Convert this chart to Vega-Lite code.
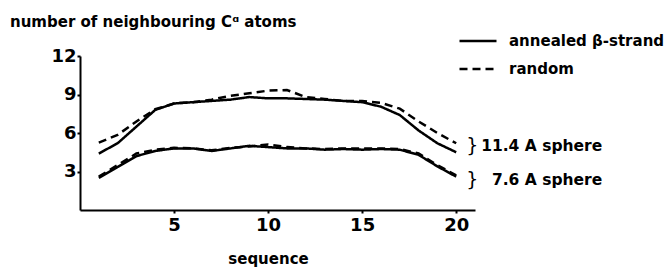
{
  "$schema": "https://vega.github.io/schema/vega-lite/v6.json",
  "autosize": "none",
  "width": 395,
  "height": 154,
  "padding": {"left": 80, "top": 56, "right": 192, "bottom": 61},
  "background": "white",
  "title": {
    "text": "number of neighbouring Cᵅ atoms",
    "anchor": "start",
    "frame": "group",
    "font": "DejaVu Sans",
    "fontSize": 15,
    "fontWeight": "bold",
    "color": "black",
    "dx": -70,
    "dy": 31,
    "offset": 22
  },
  "config": {
    "view": {"stroke": null},
    "axis": {
      "grid": false,
      "domainColor": "black",
      "domainWidth": 2,
      "tickColor": "black",
      "tickWidth": 2,
      "tickSize": 3,
      "labelFont": "DejaVu Sans",
      "labelFontWeight": "bold",
      "labelColor": "black",
      "titleFont": "DejaVu Sans",
      "titleFontWeight": "bold",
      "titleColor": "black"
    }
  },
  "datasets": {
    "curves": [
      {"seq":1,"n":4.4,"method":"annealed β-strand","sphere":"11.4"},
      {"seq":2,"n":5.2,"method":"annealed β-strand","sphere":"11.4"},
      {"seq":3,"n":6.5,"method":"annealed β-strand","sphere":"11.4"},
      {"seq":4,"n":7.8,"method":"annealed β-strand","sphere":"11.4"},
      {"seq":5,"n":8.3,"method":"annealed β-strand","sphere":"11.4"},
      {"seq":6,"n":8.4,"method":"annealed β-strand","sphere":"11.4"},
      {"seq":7,"n":8.5,"method":"annealed β-strand","sphere":"11.4"},
      {"seq":8,"n":8.6,"method":"annealed β-strand","sphere":"11.4"},
      {"seq":9,"n":8.8,"method":"annealed β-strand","sphere":"11.4"},
      {"seq":10,"n":8.7,"method":"annealed β-strand","sphere":"11.4"},
      {"seq":11,"n":8.7,"method":"annealed β-strand","sphere":"11.4"},
      {"seq":12,"n":8.65,"method":"annealed β-strand","sphere":"11.4"},
      {"seq":13,"n":8.6,"method":"annealed β-strand","sphere":"11.4"},
      {"seq":14,"n":8.5,"method":"annealed β-strand","sphere":"11.4"},
      {"seq":15,"n":8.4,"method":"annealed β-strand","sphere":"11.4"},
      {"seq":16,"n":8.05,"method":"annealed β-strand","sphere":"11.4"},
      {"seq":17,"n":7.4,"method":"annealed β-strand","sphere":"11.4"},
      {"seq":18,"n":6.2,"method":"annealed β-strand","sphere":"11.4"},
      {"seq":19,"n":5.2,"method":"annealed β-strand","sphere":"11.4"},
      {"seq":20,"n":4.5,"method":"annealed β-strand","sphere":"11.4"},
      {"seq":1,"n":5.25,"method":"random","sphere":"11.4"},
      {"seq":2,"n":5.85,"method":"random","sphere":"11.4"},
      {"seq":3,"n":6.9,"method":"random","sphere":"11.4"},
      {"seq":4,"n":7.85,"method":"random","sphere":"11.4"},
      {"seq":5,"n":8.3,"method":"random","sphere":"11.4"},
      {"seq":6,"n":8.4,"method":"random","sphere":"11.4"},
      {"seq":7,"n":8.6,"method":"random","sphere":"11.4"},
      {"seq":8,"n":8.9,"method":"random","sphere":"11.4"},
      {"seq":9,"n":9.1,"method":"random","sphere":"11.4"},
      {"seq":10,"n":9.3,"method":"random","sphere":"11.4"},
      {"seq":11,"n":9.35,"method":"random","sphere":"11.4"},
      {"seq":12,"n":8.8,"method":"random","sphere":"11.4"},
      {"seq":13,"n":8.65,"method":"random","sphere":"11.4"},
      {"seq":14,"n":8.5,"method":"random","sphere":"11.4"},
      {"seq":15,"n":8.5,"method":"random","sphere":"11.4"},
      {"seq":16,"n":8.35,"method":"random","sphere":"11.4"},
      {"seq":17,"n":7.9,"method":"random","sphere":"11.4"},
      {"seq":18,"n":6.9,"method":"random","sphere":"11.4"},
      {"seq":19,"n":6.0,"method":"random","sphere":"11.4"},
      {"seq":20,"n":5.2,"method":"random","sphere":"11.4"},
      {"seq":1,"n":2.5,"method":"annealed β-strand","sphere":"7.6"},
      {"seq":2,"n":3.35,"method":"annealed β-strand","sphere":"7.6"},
      {"seq":3,"n":4.2,"method":"annealed β-strand","sphere":"7.6"},
      {"seq":4,"n":4.6,"method":"annealed β-strand","sphere":"7.6"},
      {"seq":5,"n":4.8,"method":"annealed β-strand","sphere":"7.6"},
      {"seq":6,"n":4.8,"method":"annealed β-strand","sphere":"7.6"},
      {"seq":7,"n":4.6,"method":"annealed β-strand","sphere":"7.6"},
      {"seq":8,"n":4.8,"method":"annealed β-strand","sphere":"7.6"},
      {"seq":9,"n":5.0,"method":"annealed β-strand","sphere":"7.6"},
      {"seq":10,"n":4.9,"method":"annealed β-strand","sphere":"7.6"},
      {"seq":11,"n":4.8,"method":"annealed β-strand","sphere":"7.6"},
      {"seq":12,"n":4.8,"method":"annealed β-strand","sphere":"7.6"},
      {"seq":13,"n":4.7,"method":"annealed β-strand","sphere":"7.6"},
      {"seq":14,"n":4.75,"method":"annealed β-strand","sphere":"7.6"},
      {"seq":15,"n":4.7,"method":"annealed β-strand","sphere":"7.6"},
      {"seq":16,"n":4.75,"method":"annealed β-strand","sphere":"7.6"},
      {"seq":17,"n":4.7,"method":"annealed β-strand","sphere":"7.6"},
      {"seq":18,"n":4.3,"method":"annealed β-strand","sphere":"7.6"},
      {"seq":19,"n":3.4,"method":"annealed β-strand","sphere":"7.6"},
      {"seq":20,"n":2.6,"method":"annealed β-strand","sphere":"7.6"},
      {"seq":1,"n":2.6,"method":"random","sphere":"7.6"},
      {"seq":2,"n":3.5,"method":"random","sphere":"7.6"},
      {"seq":3,"n":4.4,"method":"random","sphere":"7.6"},
      {"seq":4,"n":4.7,"method":"random","sphere":"7.6"},
      {"seq":5,"n":4.85,"method":"random","sphere":"7.6"},
      {"seq":6,"n":4.8,"method":"random","sphere":"7.6"},
      {"seq":7,"n":4.65,"method":"random","sphere":"7.6"},
      {"seq":8,"n":4.85,"method":"random","sphere":"7.6"},
      {"seq":9,"n":4.95,"method":"random","sphere":"7.6"},
      {"seq":10,"n":5.1,"method":"random","sphere":"7.6"},
      {"seq":11,"n":4.9,"method":"random","sphere":"7.6"},
      {"seq":12,"n":4.8,"method":"random","sphere":"7.6"},
      {"seq":13,"n":4.75,"method":"random","sphere":"7.6"},
      {"seq":14,"n":4.8,"method":"random","sphere":"7.6"},
      {"seq":15,"n":4.8,"method":"random","sphere":"7.6"},
      {"seq":16,"n":4.8,"method":"random","sphere":"7.6"},
      {"seq":17,"n":4.75,"method":"random","sphere":"7.6"},
      {"seq":18,"n":4.4,"method":"random","sphere":"7.6"},
      {"seq":19,"n":3.5,"method":"random","sphere":"7.6"},
      {"seq":20,"n":2.7,"method":"random","sphere":"7.6"}
    ],
    "labels": [
      {"seq":20,"n":5.0,"label":"11.4 A sphere"},
      {"seq":20,"n":2.3,"label":"7.6 A sphere"}
    ]
  },
  "layer": [
    {
      "data": {"name": "curves"},
      "mark": {"type": "line", "color": "black", "strokeWidth": 2.5},
      "encoding": {
        "x": {
          "field": "seq", "type": "quantitative",
          "scale": {"domain": [0, 21], "nice": false},
          "axis": {"values": [5, 10, 15, 20], "title": "sequence", "labelFontSize": 18, "labelPadding": 3, "titleFontSize": 15, "titleX": 188, "titleY": 41}
        },
        "y": {
          "field": "n", "type": "quantitative",
          "scale": {"domain": [0, 12], "nice": false},
          "axis": {"values": [3, 6, 9, 12], "title": null, "labelFontSize": 18, "labelPadding": 1}
        },
        "strokeDash": {
          "field": "method", "type": "nominal",
          "scale": {"domain": ["annealed β-strand", "random"], "range": [[1, 0], [8, 5]]},
          "legend": {
            "title": null,
            "orient": "none",
            "legendX": 378,
            "legendY": -35,
            "symbolType": "stroke",
            "symbolSize": 1369,
            "symbolStrokeColor": "black",
            "symbolStrokeWidth": 2.5,
            "labelFont": "DejaVu Sans",
            "labelFontWeight": "bold",
            "labelFontSize": 15,
            "labelColor": "black",
            "labelOffset": 11,
            "rowPadding": -4
          }
        },
        "detail": {"field": "sphere", "type": "nominal"}
      }
    },
    {
      "data": {"name": "labels"},
      "mark": {"type": "text", "text": "}", "align": "left", "baseline": "middle", "dx": 10, "font": "DejaVu Sans", "fontSize": 19, "color": "black"},
      "encoding": {
        "x": {"field": "seq", "type": "quantitative"},
        "y": {"field": "n", "type": "quantitative"}
      }
    },
    {
      "data": {"name": "labels"},
      "mark": {"type": "text", "align": "right", "baseline": "middle", "dx": 146, "font": "DejaVu Sans", "fontWeight": "bold", "fontSize": 15.5, "color": "black"},
      "encoding": {
        "x": {"field": "seq", "type": "quantitative"},
        "y": {"field": "n", "type": "quantitative"},
        "text": {"field": "label"}
      }
    }
  ]
}
